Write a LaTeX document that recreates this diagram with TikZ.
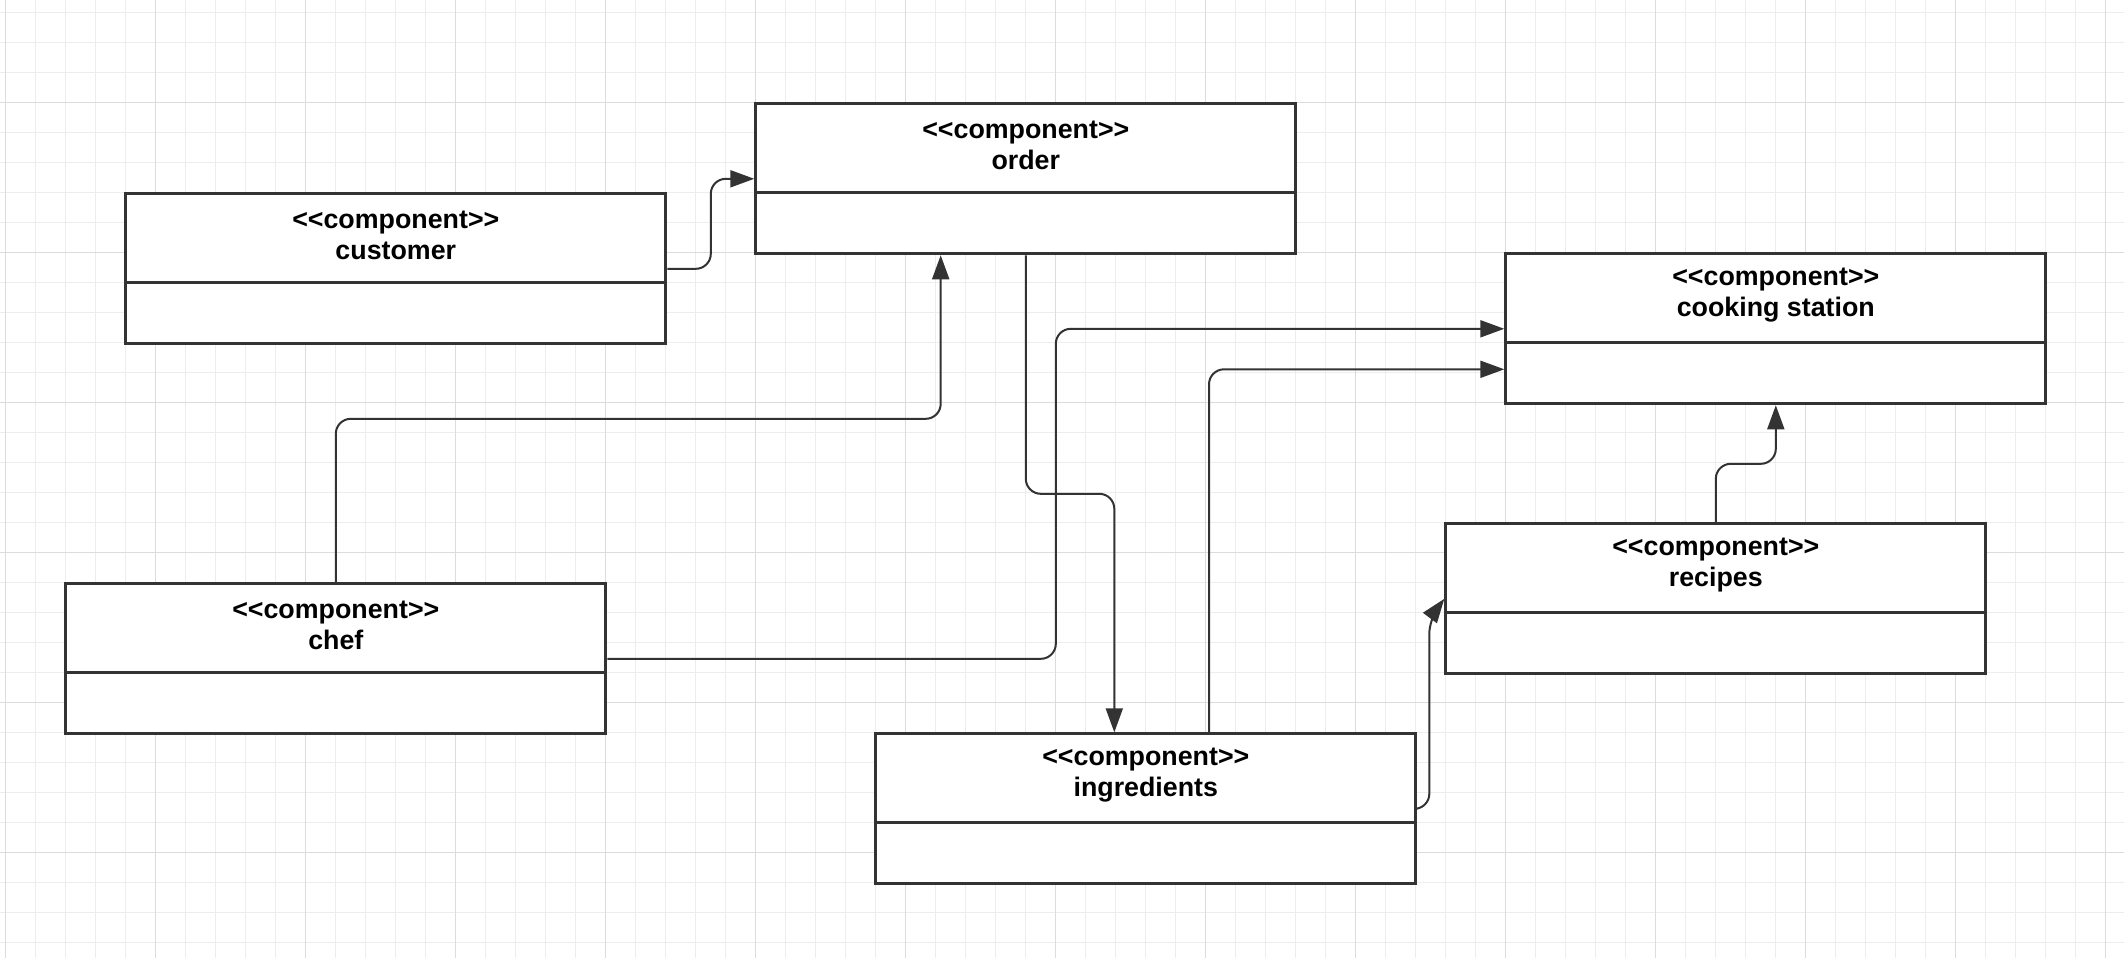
\documentclass[tikz,border=0pt]{standalone}
\usepackage{fontspec}
\setmainfont{Liberation Sans}
\usetikzlibrary{arrows.meta,calc}
\definecolor{ink}{HTML}{333333}
\definecolor{gridminor}{HTML}{EDEDED}
\definecolor{gridmajor}{HTML}{DCDCDC}

% one UML component box: name, top-left corner (px), component name
\newcommand\umlcomp[4]{%
  \node[compbox] (#1) at (#2,#3) {};
  \draw[divider] ([yshift=-45pt]#1.north west) -- ([yshift=-45pt]#1.north east);
  \node[title] (#1-title) at ([yshift=-21.5pt]#1.north) {<\kern0pt<component>\kern0pt>\\#4};
}

\begin{document}
\begin{tikzpicture}[x=0.5pt,y=-0.5pt,
  compbox/.style={draw=ink, line width=1.5pt, fill=white, minimum width=270pt,
    minimum height=75pt, inner sep=0pt, anchor=north west},
  divider/.style={draw=ink, line width=1.5pt},
  title/.style={font=\bfseries\fontsize{13.4}{15.5}\selectfont, align=center,
    text=black, inner sep=0pt},
  conn/.style={draw=ink, line width=1pt, rounded corners=7.5pt,
    -{Triangle[length=12pt,width=8.5pt]}},
  gridthin/.style={draw=gridminor, line width=0.5pt},
  gridthick/.style={draw=gridmajor, line width=0.6pt}]

% canvas and background grid
\fill[white] (0,0) rectangle (2124,958);
\path[use as bounding box] (0,0) rectangle (2124,958);
\foreach \gx in {5.3,35.3,...,2110} \draw[gridthin] (\gx,0) -- (\gx,958);
\foreach \gy in {12.3,42.3,...,950} \draw[gridthin] (0,\gy) -- (2124,\gy);
\foreach \gx in {5.3,155.3,...,2110} \draw[gridthick] (\gx,0) -- (\gx,958);
\foreach \gy in {102.3,252.3,...,950} \draw[gridthick] (0,\gy) -- (2124,\gy);

% components
\umlcomp{customer}{124.3}{192.3}{customer}
\umlcomp{order}{754.3}{102.3}{order}
\umlcomp{cooking}{1504.3}{252.3}{cooking station}
\umlcomp{recipes}{1444.3}{522.3}{recipes}
\umlcomp{chef}{64.3}{582.3}{chef}
\umlcomp{ingredients}{874.3}{732.3}{ingredients}

% helper points for the connectors
\coordinate (m1) at ($(customer.east)!.5!(order.west)$);
\coordinate (orderIn) at ([xshift=93.2pt]order.south west);
\coordinate (m2) at ($(chef.north)!.5!(orderIn)$);
\coordinate (m3) at ($(chef.east)!.5!(cooking.west)$);
\coordinate (ingIn) at ([xshift=120pt]ingredients.north west);
\coordinate (m4) at ($(order.south)!.5!(ingIn)$);
\coordinate (ingOut) at ([xshift=167.35pt]ingredients.north west);
\coordinate (cookIn) at ([yshift=-58.5pt]cooking.north west);
\coordinate (v6) at ($(recipes.west)+(-15,20)$);
\coordinate (m7) at ($(recipes.north)!.5!(cooking.south)$);

% connectors
\draw[conn] (customer.east) -- (customer.east -| m1) |- (order.west);
\draw[conn] (chef.north) -- (chef.north |- m2) -| (orderIn);
\draw[conn] (chef.east) -| (m3 |- cooking.west) -- (cooking.west);
\draw[conn] (order.south) -- (order.south |- m4) -| (ingIn);
\draw[conn] (ingOut) |- (cookIn);
\draw[conn] (ingredients.east) -| (v6) [sharp corners] -- (recipes.west);
\draw[conn] (recipes.north) -- (recipes.north |- m7) -| (cooking.south);

\end{tikzpicture}
\end{document}
